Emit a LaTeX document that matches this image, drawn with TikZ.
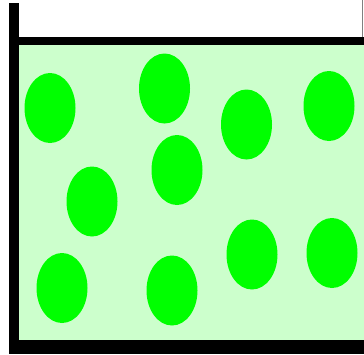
\documentclass[tikz,border=0pt]{standalone}
\definecolor{liquid}{HTML}{CCFFCC}
\definecolor{particle}{HTML}{00FF00}
\begin{document}
\begin{tikzpicture}[x=1pt,y=-1pt]
\useasboundingbox (0,0) rectangle (364,354);
\fill[liquid] (19,45) rectangle (364,340);
\fill[black] (9,3) rectangle (19,354);
\fill[black] (9,340) rectangle (364,354);
\fill[black] (19,37) rectangle (364,45);
\draw[gray,line width=1pt] (362.5,0)--(362.5,37);
\foreach \x/\y in {50/108,164.5/88.5,246.5/124.5,329/106,92/201.5,177/170,62/288,172/290.5,252/254.5,332/253}
  \fill[particle] (\x,\y) ellipse (25.5 and 35);
\end{tikzpicture}
\end{document}
